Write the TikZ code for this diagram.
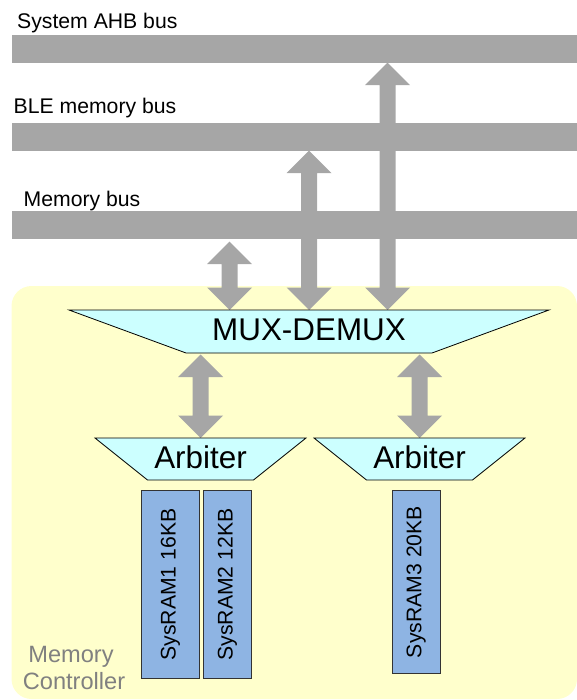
\documentclass[tikz,border=0pt]{standalone}
\usepackage{fontspec}
\setmainfont{Liberation Sans}
\definecolor{busgray}{RGB}{166,166,166}
\definecolor{ctrlyellow}{RGB}{255,255,204}
\definecolor{muxcyan}{RGB}{204,255,255}
\definecolor{ramblue}{RGB}{142,180,227}
\definecolor{ctrlgray}{RGB}{128,128,128}
\newcommand\fatdbl[3]{% x, top tip y, bottom tip y
  \fill[busgray] (#1,#2) -- (#1+22.5,#2+22.5) -- (#1+8,#2+22.5) -- (#1+8,#3-22.5)
    -- (#1+22.5,#3-22.5) -- (#1,#3) -- (#1-22.5,#3-22.5) -- (#1-8,#3-22.5)
    -- (#1-8,#2+22.5) -- (#1-22.5,#2+22.5) -- cycle;}
\begin{document}
\begin{tikzpicture}[x=1pt,y=-1pt,
  buslbl/.style={anchor=base west,inner sep=0pt,font=\fontsize{21.2}{25}\selectfont},
  busbar/.style={fill=busgray,inner sep=0pt,anchor=north west,minimum width=566,minimum height=27.6},
  trap/.style={fill=muxcyan,draw=black,line width=0.8pt,line join=miter},
  bigtext/.style={anchor=base,inner sep=0pt,font=\fontsize{31.4}{35}\selectfont},
  ram/.style={fill=ramblue,draw=black!80,line width=0.8pt,rotate=90,inner sep=0pt,font=\fontsize{21.2}{25}\selectfont},
  ctrllbl/.style={anchor=base,inner sep=0pt,text=ctrlgray,font=\fontsize{23.6}{27}\selectfont}]
\useasboundingbox (0,0) rectangle (577,700);
% memory controller background
\fill[ctrlyellow,rounded corners=20pt] (11.5,286) rectangle (577,699);
% buses
\node[busbar] (ahb) at (11.5,35) {};
\node[busbar] (ble) at (11.5,123) {};
\node[busbar] (mem) at (11.5,210.8) {};
\node[buslbl] (ahblbl) at (17,28.3) {System AHB bus};
\node[buslbl] (blelbl) at (13.5,114) {BLE memory bus};
\node[buslbl] (memlbl) at (23.5,207) {Memory bus};
% arrows
\fatdbl{229.5}{241.7}{310}
\fatdbl{309}{150.6}{310}
\fatdbl{387.5}{62.6}{310}
\fatdbl{200.5}{354.5}{438}
\fatdbl{419.5}{354.5}{438}
% MUX-DEMUX
\draw[trap] (69,310) -- (549,310) -- (432,353) -- (186,353) -- cycle;
\node[bigtext] (mux) at (309,340.5) {MUX-DEMUX};
% arbiters
\draw[trap] (95,438) -- (306,438) -- (253.5,480) -- (147.5,480) -- cycle;
\node[bigtext] (arb1) at (200.5,468.5) {Arbiter};
\draw[trap] (314,438) -- (525,438) -- (472.5,480) -- (366.5,480) -- cycle;
\node[bigtext] (arb2) at (419.5,468.5) {Arbiter};
% SysRAMs
\node[ram,minimum width=187.6,minimum height=57.3] (ram1) at (170.35,584.5) {SysRAM1 16KB};
\node[ram,minimum width=187.6,minimum height=48.4] (ram2) at (227.5,584.5) {SysRAM2 12KB};
\node[ram,minimum width=182.6,minimum height=48.3] (ram3) at (416.15,582) {SysRAM3 20KB};
% label
\node[ctrllbl] (ctrl1) at (71,662.7) {Memory};
\node[ctrllbl] (ctrl2) at (74,689) {Controller};
\end{tikzpicture}
\end{document}
